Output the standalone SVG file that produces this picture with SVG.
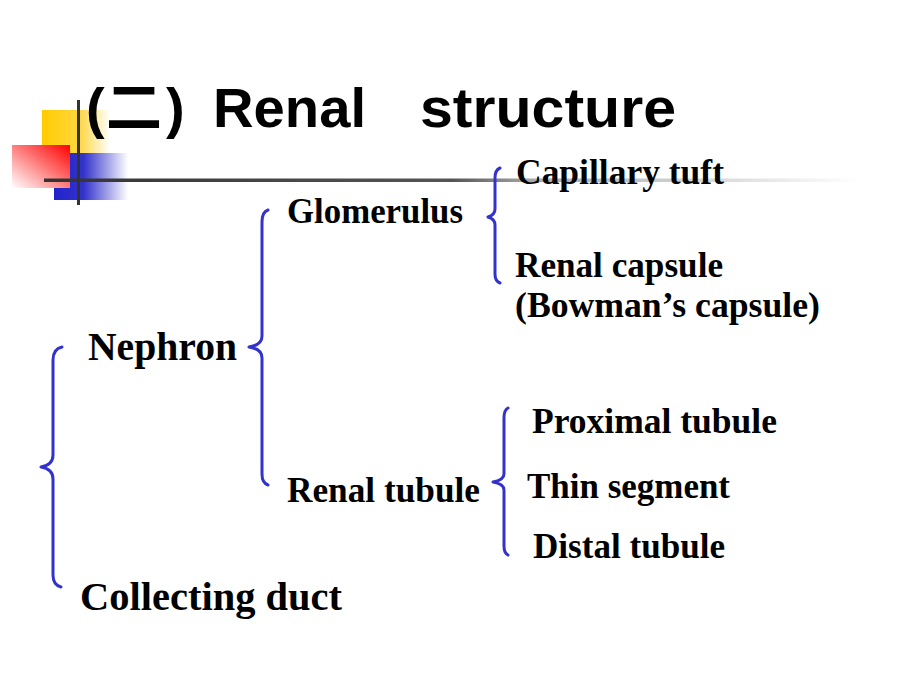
<svg xmlns="http://www.w3.org/2000/svg" width="920" height="690" viewBox="0 0 920 690">
<defs>
<linearGradient id="gY" x1="0" y1="0" x2="1" y2="0"><stop offset="0" stop-color="#ffcc00"/><stop offset="0.55" stop-color="#ffd640"/><stop offset="1" stop-color="#ffffff"/></linearGradient>
<linearGradient id="gR" x1="1" y1="0" x2="0" y2="1"><stop offset="0" stop-color="#ff0000"/><stop offset="1" stop-color="#ffffff"/></linearGradient>
<linearGradient id="gB" x1="0" y1="0" x2="1" y2="0"><stop offset="0" stop-color="#2222cc"/><stop offset="0.4" stop-color="#3333cc"/><stop offset="1" stop-color="#ffffff"/></linearGradient>
<linearGradient id="gL" x1="0" y1="0" x2="1" y2="0"><stop offset="0" stop-color="#333333"/><stop offset="0.5" stop-color="#555555"/><stop offset="0.6" stop-color="#aaaaaa"/><stop offset="1" stop-color="#ffffff"/></linearGradient>
<style>
.t{font-family:"Liberation Serif","Times New Roman",serif;font-weight:bold;fill:#000}
.br{fill:none;stroke:#3333cc;stroke-width:3;stroke-linecap:round;stroke-linejoin:round}
</style>
</defs>
<rect width="920" height="690" fill="#fff"/>
<g id="logo">
<rect x="42" y="110" width="68" height="60" fill="url(#gY)"/>
<rect x="54" y="153" width="74" height="47" fill="url(#gB)"/>
<rect x="12" y="145" width="58" height="43" fill="url(#gR)"/>
<rect x="44" y="178.5" width="816" height="3.5" fill="url(#gL)"/>
<rect x="77" y="100" width="3" height="105" fill="#333"/>
</g>
<g id="title" font-family="'Liberation Sans','Noto Sans CJK SC',sans-serif" font-weight="bold" font-size="56" fill="#000">
<text x="86" y="127">(</text>
<text x="106" y="127" font-family="'Noto Sans CJK SC',sans-serif" font-size="56">二</text>
<text x="166" y="127">)</text>
<text x="213" y="127" textLength="153" lengthAdjust="spacingAndGlyphs">Renal</text>
<text x="420" y="127" textLength="256" lengthAdjust="spacingAndGlyphs">structure</text>
</g>
<g id="connectors">
<path class="br" d="M62,347 Q53,349 53,360 L53,455 Q53,465 41,467 Q53,469 53,479 L53,575 Q53,585 61,587"/>
<path class="br" d="M268,210 Q262,212 262,222 L262,336 Q262,345 249,347 Q262,349 262,358 L262,474 Q262,483 268,485"/>
<path class="br" d="M500,168 Q495,170 495,178 L495,209 Q495,215 488,217 Q495,219 495,225 L495,274 Q495,281 500,283"/>
<path class="br" d="M508,408 Q504,410 504,418 L504,474 Q504,480 493,482 Q504,484 504,490 L504,546 Q504,553 508,555"/>
</g>
<g id="nephron"><text class="t" x="88" y="360" font-size="40" textLength="149" lengthAdjust="spacingAndGlyphs">Nephron</text></g>
<g id="collecting-duct"><text class="t" x="80" y="610" font-size="40" textLength="262" lengthAdjust="spacingAndGlyphs">Collecting duct</text></g>
<g id="glomerulus"><text class="t" x="287" y="223" font-size="35" textLength="176" lengthAdjust="spacingAndGlyphs">Glomerulus</text></g>
<g id="renal-tubule"><text class="t" x="287" y="502" font-size="35" textLength="193" lengthAdjust="spacingAndGlyphs">Renal tubule</text></g>
<g id="capillary-tuft"><text class="t" x="516" y="184" font-size="36" textLength="208" lengthAdjust="spacingAndGlyphs">Capillary tuft</text></g>
<g id="renal-capsule">
<text class="t" x="515" y="277" font-size="36" textLength="208" lengthAdjust="spacingAndGlyphs">Renal capsule</text>
<text class="t" x="515" y="317" font-size="36" textLength="305" lengthAdjust="spacingAndGlyphs">(Bowman’s capsule)</text>
</g>
<g id="proximal-tubule"><text class="t" x="532" y="433" font-size="36" textLength="245" lengthAdjust="spacingAndGlyphs">Proximal tubule</text></g>
<g id="thin-segment"><text class="t" x="527" y="498" font-size="36" textLength="203" lengthAdjust="spacingAndGlyphs">Thin segment</text></g>
<g id="distal-tubule"><text class="t" x="533" y="558" font-size="36" textLength="192" lengthAdjust="spacingAndGlyphs">Distal tubule</text></g>
</svg>
